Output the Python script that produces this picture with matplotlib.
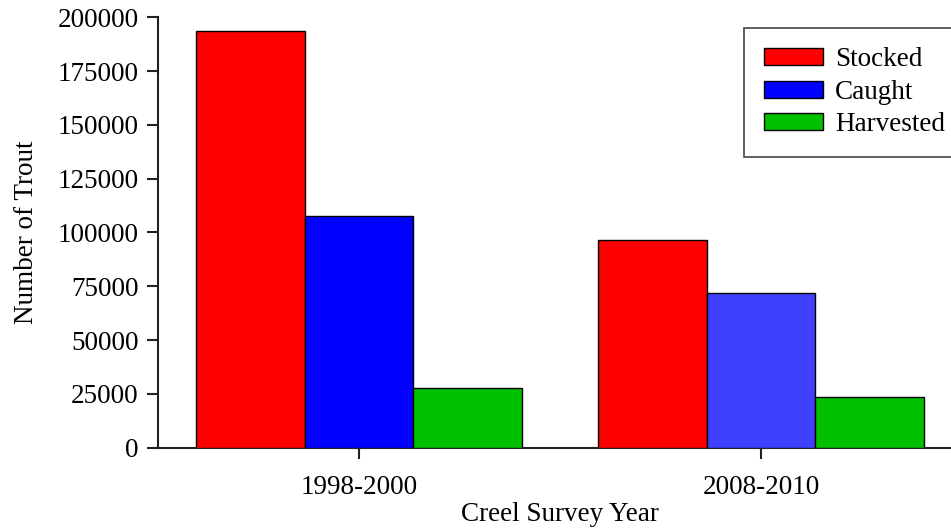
import matplotlib
matplotlib.use("Agg")
import matplotlib.pyplot as plt
import numpy as np

plt.rcParams['font.family'] = ['Liberation Serif', 'DejaVu Serif']

groups = ["1998-2000", "2008-2010"]
series = ["Stocked", "Caught", "Harvested"]
stocked = [193600, 96400]
caught = [107500, 72000]
harvested = [27600, 23400]
colors_stocked = ["#FF0000", "#FF0000"]
colors_caught = ["#0000FF", "#4040FF"]
colors_harvested = ["#00C000", "#00C000"]
yticks = [0, 25000, 50000, 75000, 100000, 125000, 150000, 175000, 200000]

W, H = 951, 529
fig = plt.figure(figsize=(W/100, H/100), dpi=100)
x0, x1 = 158, 962
y0, y1 = 447.7, 17.3
ax = fig.add_axes([x0/W, 1 - y0/H, (x1 - x0)/W, (y0 - y1)/H])

x = np.arange(len(groups))
bw = 0.2711
fs = 19.5
hs = []
for i, (vals, cols, name) in enumerate(zip([stocked, caught, harvested],
                                          [colors_stocked, colors_caught, colors_harvested],
                                          series)):
    b = ax.bar(x + (i - 1) * bw, vals, bw, color=cols, edgecolor="black",
               linewidth=1.0, label=name, zorder=3)
    hs.append(b)

ax.set_xlim(-0.5, 1.5)
ax.set_ylim(0, 200000)
ax.set_yticks(yticks)
ax.set_yticklabels([str(v) for v in yticks])
ax.set_xticks(x)
ax.set_xticklabels(groups)
for s in ["top", "right"]:
    ax.spines[s].set_visible(False)
for s in ["left", "bottom"]:
    ax.spines[s].set_linewidth(1.5)
    ax.spines[s].set_color("#222222")
ax.tick_params(axis="both", direction="out", length=8, width=1.5, color="#222222",
               labelsize=fs)
ax.tick_params(axis="y", pad=6)
ax.tick_params(axis="x", pad=12)
ax.set_ylabel("Number of Trout", fontsize=fs, labelpad=13)
ax.set_xlabel("Creel Survey Year", fontsize=fs, labelpad=1)

leg = fig.legend(handles=hs, labels=series, loc="upper left",
                 bbox_to_anchor=(744/W, 1 - 27.7/H), bbox_transform=fig.transFigure,
                 fontsize=fs, frameon=True, fancybox=False, framealpha=1,
                 edgecolor="#444444", handlelength=2.2, handleheight=0.6,
                 handletextpad=0.45, borderpad=0.72, labelspacing=0.28,
                 borderaxespad=0)
leg.get_frame().set_linewidth(1.2)
for p in leg.get_patches():
    p.set_edgecolor("black")
leg.legend_handles[1].set_facecolor("#0000FF")

fig.savefig("out.png", dpi=100)
